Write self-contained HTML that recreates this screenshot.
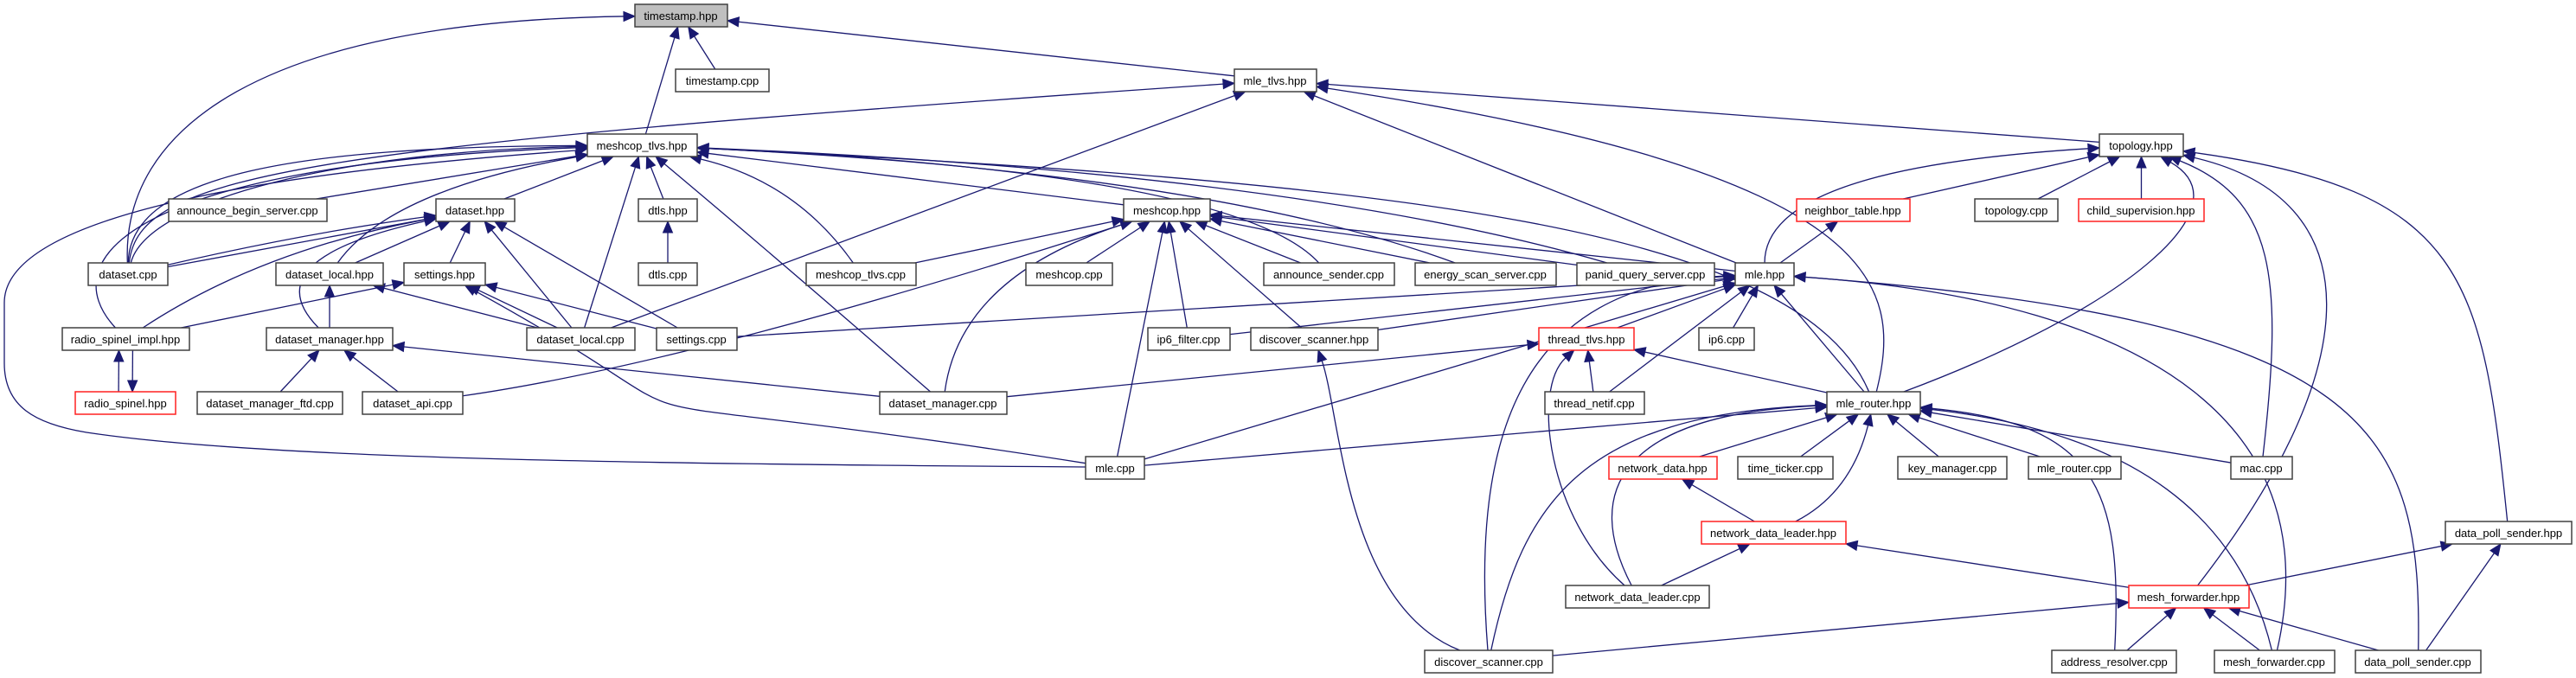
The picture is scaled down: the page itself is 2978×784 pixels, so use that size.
<!DOCTYPE html>
<html><head><meta charset="utf-8"><style>
html,body{margin:0;padding:0;background:#fff;}
svg{display:block;}
text{font-family:"Liberation Sans",sans-serif;font-size:13px;fill:#000;}
</style></head><body>
<svg id="s" width="2978" height="784" viewBox="0 0 2978 784" xmlns="http://www.w3.org/2000/svg">
<g id="edges" fill="none" stroke="#191970" stroke-width="1.3"></g>
<g id="heads" fill="#191970" stroke="#191970" stroke-width="1"></g>
<g id="nodes" stroke-width="1.5">
<rect id="timestamp_hpp" x="734" y="5" width="107" height="26" fill="#bfbfbf" stroke="#404040"/><text x="787" y="23" text-anchor="middle">timestamp.hpp</text>
<rect id="timestamp_cpp" x="781" y="80" width="108" height="26" fill="#fff" stroke="#404040"/><text x="835" y="98" text-anchor="middle">timestamp.cpp</text>
<rect id="mle_tlvs_hpp" x="1427" y="80" width="95" height="26" fill="#fff" stroke="#404040"/><text x="1474" y="98" text-anchor="middle">mle_tlvs.hpp</text>
<rect id="meshcop_tlvs_hpp" x="679" y="155" width="127" height="26" fill="#fff" stroke="#404040"/><text x="742" y="173" text-anchor="middle">meshcop_tlvs.hpp</text>
<rect id="topology_hpp" x="2427" y="155" width="97" height="26" fill="#fff" stroke="#404040"/><text x="2475" y="173" text-anchor="middle">topology.hpp</text>
<rect id="announce_begin_server_cpp" x="195" y="230" width="183" height="26" fill="#fff" stroke="#404040"/><text x="286" y="248" text-anchor="middle">announce_begin_server.cpp</text>
<rect id="dataset_hpp" x="504" y="230" width="91" height="26" fill="#fff" stroke="#404040"/><text x="549" y="248" text-anchor="middle">dataset.hpp</text>
<rect id="dtls_hpp" x="738" y="230" width="68" height="26" fill="#fff" stroke="#404040"/><text x="772" y="248" text-anchor="middle">dtls.hpp</text>
<rect id="meshcop_hpp" x="1299" y="230" width="100" height="26" fill="#fff" stroke="#404040"/><text x="1349" y="248" text-anchor="middle">meshcop.hpp</text>
<rect id="neighbor_table_hpp" x="2077" y="230" width="131" height="26" fill="#fff" stroke="#ff2020"/><text x="2142" y="248" text-anchor="middle">neighbor_table.hpp</text>
<rect id="topology_cpp" x="2283" y="230" width="96" height="26" fill="#fff" stroke="#404040"/><text x="2331" y="248" text-anchor="middle">topology.cpp</text>
<rect id="child_supervision_hpp" x="2403" y="230" width="145" height="26" fill="#fff" stroke="#ff2020"/><text x="2475" y="248" text-anchor="middle">child_supervision.hpp</text>
<rect id="dataset_cpp" x="102" y="304" width="92" height="26" fill="#fff" stroke="#404040"/><text x="148" y="322" text-anchor="middle">dataset.cpp</text>
<rect id="dataset_local_hpp" x="319" y="304" width="124" height="26" fill="#fff" stroke="#404040"/><text x="381" y="322" text-anchor="middle">dataset_local.hpp</text>
<rect id="settings_hpp" x="467" y="304" width="94" height="26" fill="#fff" stroke="#404040"/><text x="514" y="322" text-anchor="middle">settings.hpp</text>
<rect id="dtls_cpp" x="738" y="304" width="68" height="26" fill="#fff" stroke="#404040"/><text x="772" y="322" text-anchor="middle">dtls.cpp</text>
<rect id="meshcop_tlvs_cpp" x="932" y="304" width="127" height="26" fill="#fff" stroke="#404040"/><text x="995" y="322" text-anchor="middle">meshcop_tlvs.cpp</text>
<rect id="meshcop_cpp" x="1186" y="304" width="100" height="26" fill="#fff" stroke="#404040"/><text x="1236" y="322" text-anchor="middle">meshcop.cpp</text>
<rect id="announce_sender_cpp" x="1461" y="304" width="151" height="26" fill="#fff" stroke="#404040"/><text x="1536" y="322" text-anchor="middle">announce_sender.cpp</text>
<rect id="energy_scan_server_cpp" x="1636" y="304" width="163" height="26" fill="#fff" stroke="#404040"/><text x="1717" y="322" text-anchor="middle">energy_scan_server.cpp</text>
<rect id="panid_query_server_cpp" x="1823" y="304" width="159" height="26" fill="#fff" stroke="#404040"/><text x="1902" y="322" text-anchor="middle">panid_query_server.cpp</text>
<rect id="mle_hpp" x="2006" y="304" width="68" height="26" fill="#fff" stroke="#404040"/><text x="2040" y="322" text-anchor="middle">mle.hpp</text>
<rect id="radio_spinel_impl_hpp" x="72" y="379" width="147" height="26" fill="#fff" stroke="#404040"/><text x="145" y="397" text-anchor="middle">radio_spinel_impl.hpp</text>
<rect id="dataset_manager_hpp" x="308" y="379" width="146" height="26" fill="#fff" stroke="#404040"/><text x="381" y="397" text-anchor="middle">dataset_manager.hpp</text>
<rect id="dataset_local_cpp" x="609" y="379" width="125" height="26" fill="#fff" stroke="#404040"/><text x="671" y="397" text-anchor="middle">dataset_local.cpp</text>
<rect id="settings_cpp" x="759" y="379" width="93" height="26" fill="#fff" stroke="#404040"/><text x="805" y="397" text-anchor="middle">settings.cpp</text>
<rect id="ip6_filter_cpp" x="1327" y="379" width="95" height="26" fill="#fff" stroke="#404040"/><text x="1374" y="397" text-anchor="middle">ip6_filter.cpp</text>
<rect id="discover_scanner_hpp" x="1446" y="379" width="147" height="26" fill="#fff" stroke="#404040"/><text x="1519" y="397" text-anchor="middle">discover_scanner.hpp</text>
<rect id="thread_tlvs_hpp" x="1779" y="379" width="110" height="26" fill="#fff" stroke="#ff2020"/><text x="1834" y="397" text-anchor="middle">thread_tlvs.hpp</text>
<rect id="ip6_cpp" x="1964" y="379" width="64" height="26" fill="#fff" stroke="#404040"/><text x="1996" y="397" text-anchor="middle">ip6.cpp</text>
<rect id="radio_spinel_hpp" x="87" y="453" width="116" height="26" fill="#fff" stroke="#ff2020"/><text x="145" y="471" text-anchor="middle">radio_spinel.hpp</text>
<rect id="dataset_manager_ftd_cpp" x="228" y="453" width="168" height="26" fill="#fff" stroke="#404040"/><text x="312" y="471" text-anchor="middle">dataset_manager_ftd.cpp</text>
<rect id="dataset_api_cpp" x="419" y="453" width="116" height="26" fill="#fff" stroke="#404040"/><text x="477" y="471" text-anchor="middle">dataset_api.cpp</text>
<rect id="dataset_manager_cpp" x="1017" y="453" width="147" height="26" fill="#fff" stroke="#404040"/><text x="1090" y="471" text-anchor="middle">dataset_manager.cpp</text>
<rect id="thread_netif_cpp" x="1786" y="453" width="115" height="26" fill="#fff" stroke="#404040"/><text x="1843" y="471" text-anchor="middle">thread_netif.cpp</text>
<rect id="mle_router_hpp" x="2112" y="453" width="108" height="26" fill="#fff" stroke="#404040"/><text x="2166" y="471" text-anchor="middle">mle_router.hpp</text>
<rect id="mle_cpp" x="1255" y="528" width="68" height="26" fill="#fff" stroke="#404040"/><text x="1289" y="546" text-anchor="middle">mle.cpp</text>
<rect id="network_data_hpp" x="1860" y="528" width="125" height="26" fill="#fff" stroke="#ff2020"/><text x="1922" y="546" text-anchor="middle">network_data.hpp</text>
<rect id="time_ticker_cpp" x="2009" y="528" width="110" height="26" fill="#fff" stroke="#404040"/><text x="2064" y="546" text-anchor="middle">time_ticker.cpp</text>
<rect id="key_manager_cpp" x="2194" y="528" width="126" height="26" fill="#fff" stroke="#404040"/><text x="2257" y="546" text-anchor="middle">key_manager.cpp</text>
<rect id="mle_router_cpp" x="2345" y="528" width="107" height="26" fill="#fff" stroke="#404040"/><text x="2398" y="546" text-anchor="middle">mle_router.cpp</text>
<rect id="mac_cpp" x="2579" y="528" width="71" height="26" fill="#fff" stroke="#404040"/><text x="2614" y="546" text-anchor="middle">mac.cpp</text>
<rect id="network_data_leader_hpp" x="1967" y="603" width="167" height="26" fill="#fff" stroke="#ff2020"/><text x="2050" y="621" text-anchor="middle">network_data_leader.hpp</text>
<rect id="data_poll_sender_hpp" x="2827" y="603" width="146" height="26" fill="#fff" stroke="#404040"/><text x="2900" y="621" text-anchor="middle">data_poll_sender.hpp</text>
<rect id="network_data_leader_cpp" x="1810" y="677" width="166" height="26" fill="#fff" stroke="#404040"/><text x="1893" y="695" text-anchor="middle">network_data_leader.cpp</text>
<rect id="mesh_forwarder_hpp" x="2461" y="677" width="139" height="26" fill="#fff" stroke="#ff2020"/><text x="2530" y="695" text-anchor="middle">mesh_forwarder.hpp</text>
<rect id="discover_scanner_cpp" x="1647" y="752" width="148" height="26" fill="#fff" stroke="#404040"/><text x="1721" y="770" text-anchor="middle">discover_scanner.cpp</text>
<rect id="address_resolver_cpp" x="2372" y="752" width="144" height="26" fill="#fff" stroke="#404040"/><text x="2444" y="770" text-anchor="middle">address_resolver.cpp</text>
<rect id="mesh_forwarder_cpp" x="2560" y="752" width="139" height="26" fill="#fff" stroke="#404040"/><text x="2629" y="770" text-anchor="middle">mesh_forwarder.cpp</text>
<rect id="data_poll_sender_cpp" x="2723" y="752" width="145" height="26" fill="#fff" stroke="#404040"/><text x="2795" y="770" text-anchor="middle">data_poll_sender.cpp</text>
</g>
</svg>
<script>
(function(){
var NS="http://www.w3.org/2000/svg";
var E=document.getElementById("edges"),H=document.getElementById("heads");
function box(id){var r=document.getElementById(id.replace(/\./g,"_"));var x=+r.getAttribute("x"),y=+r.getAttribute("y"),w=+r.getAttribute("width"),h=+r.getAttribute("height");return {x:x,y:y,w:w,h:h,cx:x+w/2,cy:y+h/2};}
function clip(b,px,py){var dx=px-b.cx,dy=py-b.cy;if(dx===0&&dy===0)return [b.cx,b.cy];var sx=dx!==0?(b.w/2)/Math.abs(dx):1e9,sy=dy!==0?(b.h/2)/Math.abs(dy):1e9;var s=Math.min(sx,sy);return [b.cx+dx*s,b.cy+dy*s];}
function head(tx,ty,fx,fy){var dx=tx-fx,dy=ty-fy,l=Math.sqrt(dx*dx+dy*dy)||1;dx/=l;dy/=l;var L=13,W=5.5;var bx=tx-dx*L,by=ty-dy*L;var p=document.createElementNS(NS,"polygon");p.setAttribute("points",tx+","+ty+" "+(bx-dy*W)+","+(by+dx*W)+" "+(bx+dy*W)+","+(by-dx*W));H.appendChild(p);return [bx,by];}
function edge(c,p,cp,off){var bc=box(c),bp=box(p);off=off||[0,0,0,0];
 var pc={cx:bc.cx+off[0],cy:bc.cy,w:bc.w,h:bc.h}, pp={cx:bp.cx+off[2],cy:bp.cy,w:bp.w,h:bp.h};
 var first=cp?cp[0]:[pp.cx,pp.cy],last=cp?cp[cp.length-1]:[pc.cx,pc.cy];
 var s=clip(pc,first[0],first[1]),t=clip(pp,last[0],last[1]);
 var b=head(t[0],t[1],last[0],last[1]);var d;
 if(!cp)d="M"+s[0]+","+s[1]+"L"+b[0]+","+b[1];
 else if(cp.length==1)d="M"+s[0]+","+s[1]+"Q"+cp[0][0]+","+cp[0][1]+" "+b[0]+","+b[1];
 else d="M"+s[0]+","+s[1]+"C"+cp[0][0]+","+cp[0][1]+" "+cp[1][0]+","+cp[1][1]+" "+b[0]+","+b[1];
 var e=document.createElementNS(NS,"path");e.setAttribute("d",d);E.appendChild(e);}
var L=[
["timestamp.cpp","timestamp.hpp"],["meshcop_tlvs.hpp","timestamp.hpp"],["mle_tlvs.hpp","timestamp.hpp"],
["dataset.cpp","timestamp.hpp",[[140,150],[300,25]]],
["dataset.cpp","mle_tlvs.hpp",[[160,200],[350,170]]],["dataset_local.cpp","mle_tlvs.hpp"],["mle.hpp","mle_tlvs.hpp"],["topology.hpp","mle_tlvs.hpp"],
["mle_router.hpp","mle_tlvs.hpp",[[2200,330],[2180,200]]],
["dataset.cpp","meshcop_tlvs.hpp",[[170,230],[400,175]]],["dataset.cpp","meshcop_tlvs.hpp",[[150,200],[350,170]]],
["announce_begin_server.cpp","meshcop_tlvs.hpp"],["dataset.hpp","meshcop_tlvs.hpp"],
["radio_spinel_impl.hpp","meshcop_tlvs.hpp",[[60,300],[150,190]]],
["dataset_local.hpp","meshcop_tlvs.hpp",[[450,220]]],["dataset_local.cpp","meshcop_tlvs.hpp"],["dtls.hpp","meshcop_tlvs.hpp"],
["dataset_manager.cpp","meshcop_tlvs.hpp",[[900,300]]],["meshcop_tlvs.cpp","meshcop_tlvs.hpp",[[920,210]]],["meshcop.hpp","meshcop_tlvs.hpp"],
["announce_sender.cpp","meshcop_tlvs.hpp",[[1430,200]]],["energy_scan_server.cpp","meshcop_tlvs.hpp",[[1400,200]]],["panid_query_server.cpp","meshcop_tlvs.hpp",[[1500,200]]],
["mle_router.hpp","meshcop_tlvs.hpp",[[2080,260],[1600,210]]],
["dtls.cpp","dtls.hpp"],
["dataset.cpp","dataset.hpp"],["dataset.cpp","dataset.hpp",[[350,270]]],["radio_spinel_impl.hpp","dataset.hpp",[[300,290]]],["dataset_local.hpp","dataset.hpp"],
["dataset_manager.hpp","dataset.hpp",[[290,300]]],["settings.hpp","dataset.hpp"],["dataset_local.cpp","dataset.hpp"],["settings.cpp","dataset.hpp"],
["radio_spinel_impl.hpp","settings.hpp"],["dataset_local.cpp","settings.hpp"],["settings.cpp","settings.hpp"],
["mle.cpp","settings.hpp",[[580,430],[900,530]]],
["dataset_manager.hpp","dataset_local.hpp"],["dataset_local.cpp","dataset_local.hpp"],
["radio_spinel.hpp","radio_spinel_impl.hpp",null,[-8,0,-8,0]],["radio_spinel_impl.hpp","radio_spinel.hpp",null,[8,0,8,0]],
["dataset_manager_ftd.cpp","dataset_manager.hpp"],["dataset_api.cpp","dataset_manager.hpp"],["dataset_manager.cpp","dataset_manager.hpp"],
["meshcop_tlvs.cpp","meshcop.hpp"],["dataset_api.cpp","meshcop.hpp",[[800,420]]],["dataset_manager.cpp","meshcop.hpp",[[1110,320]]],["meshcop.cpp","meshcop.hpp"],
["mle.cpp","meshcop.hpp"],["ip6_filter.cpp","meshcop.hpp"],["discover_scanner.hpp","meshcop.hpp"],["announce_sender.cpp","meshcop.hpp"],
["energy_scan_server.cpp","meshcop.hpp"],["panid_query_server.cpp","meshcop.hpp"],["mle.hpp","meshcop.hpp"],
["mle.hpp","neighbor_table.hpp"],["mle.hpp","topology.hpp",[[2040,220],[2200,185]]],["neighbor_table.hpp","topology.hpp"],["topology.cpp","topology.hpp"],["child_supervision.hpp","topology.hpp"],
["mle_router.hpp","topology.hpp",[[2450,360],[2600,240]]],["mac.cpp","topology.hpp",[[2640,320],[2630,230]]],
["mesh_forwarder.hpp","topology.hpp",[[2740,420],[2740,230]]],["data_poll_sender.hpp","topology.hpp",[[2870,320],[2850,220]]],
["settings.cpp","mle.hpp"],["ip6_filter.cpp","mle.hpp"],["discover_scanner.hpp","mle.hpp"],["mle.cpp","mle.hpp"],["thread_tlvs.hpp","mle.hpp"],
["ip6.cpp","mle.hpp"],["thread_netif.cpp","mle.hpp"],["mle_router.hpp","mle.hpp"],
["discover_scanner.cpp","mle.hpp",[[1700,500],[1760,330]]],["mesh_forwarder.cpp","mle.hpp",[[2690,500],[2500,350]]],["data_poll_sender.cpp","mle.hpp",[[2800,500],[2750,370]]],
["dataset_manager.cpp","thread_tlvs.hpp"],["thread_netif.cpp","thread_tlvs.hpp"],["mle_router.hpp","thread_tlvs.hpp"],
["network_data_leader.cpp","thread_tlvs.hpp",[[1790,600],[1770,450]]],
["discover_scanner.cpp","discover_scanner.hpp",[[1555,700],[1550,480]]],
["mle.cpp","mle_router.hpp"],["network_data.hpp","mle_router.hpp"],["time_ticker.cpp","mle_router.hpp"],["key_manager.cpp","mle_router.hpp"],
["mle_router.cpp","mle_router.hpp"],["mac.cpp","mle_router.hpp"],["network_data_leader.hpp","mle_router.hpp",[[2140,570]]],
["network_data_leader.cpp","mle_router.hpp",[[1830,570],[1870,480]]],["discover_scanner.cpp","mle_router.hpp",[[1760,580],[1830,480]]],
["address_resolver.cpp","mle_router.hpp",[[2455,560],[2420,490]]],["mesh_forwarder.cpp","mle_router.hpp",[[2590,600],[2470,500]]],
["network_data_leader.hpp","network_data.hpp"],["network_data_leader.cpp","network_data_leader.hpp"],["mesh_forwarder.hpp","network_data_leader.hpp"],
["discover_scanner.cpp","mesh_forwarder.hpp"],["address_resolver.cpp","mesh_forwarder.hpp"],["mesh_forwarder.cpp","mesh_forwarder.hpp"],["data_poll_sender.cpp","mesh_forwarder.hpp"],
["mesh_forwarder.hpp","data_poll_sender.hpp"],["data_poll_sender.cpp","data_poll_sender.hpp"]
];
L.forEach(function(a){edge(a[0],a[1],a[2],a[3]);});
var e=document.createElementNS(NS,"path");
e.setAttribute("d","M1255,540 C700,536 300,530 100,500 C40,490 5,470 5,420 L5,350 C5,250 300,200 666,174");
E.appendChild(e);head(679,172,660,175);
})();
</script>
</body></html>
